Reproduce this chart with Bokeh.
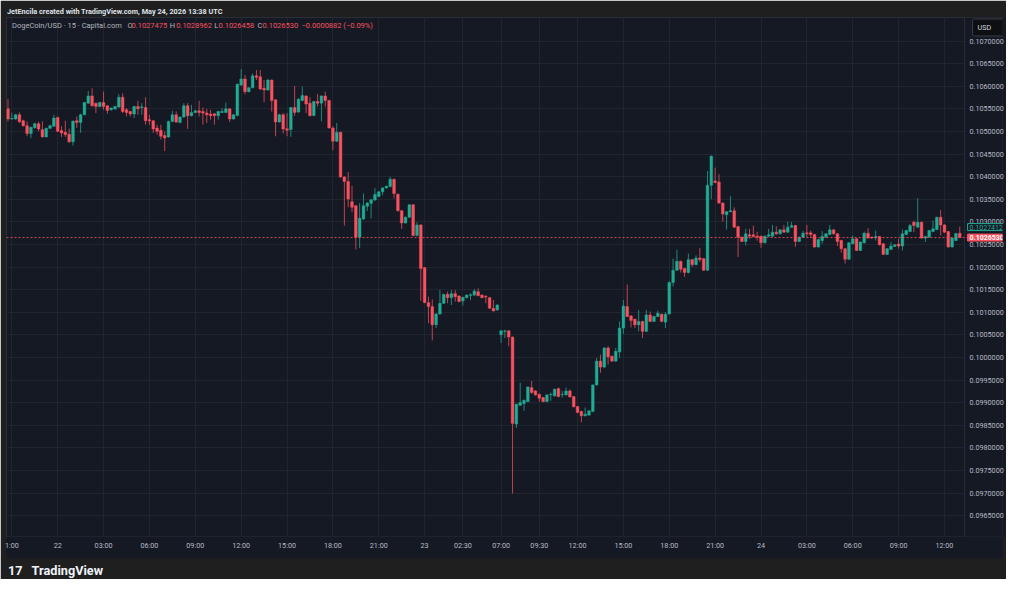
from bokeh.plotting import figure
from bokeh.models import (ColumnDataSource, FixedTicker, PrintfTickFormatter, Span, Label,
                          Range1d, Title, BoxAnnotation)
from bokeh.embed import file_html
from bokeh.resources import INLINE

# ---------------- data (15-minute candles, DogeCoin/USD) ----------------
opens = [
    0.105501, 0.105275, 0.105275, 0.105370, 0.105238, 0.105128, 0.104953, 0.105084, 0.105172, 0.105041,
    0.104880, 0.105069, 0.105113, 0.105311, 0.105019, 0.104981, 0.104937, 0.104771, 0.105238, 0.105201,
    0.105370, 0.105627, 0.105787, 0.105627, 0.105552, 0.105640, 0.105567, 0.105480, 0.105495, 0.105539,
    0.105758, 0.105480, 0.105442, 0.105385, 0.105552, 0.105530, 0.105530, 0.105260, 0.105238, 0.105078,
    0.105025, 0.104909, 0.104880, 0.105223, 0.105370, 0.105201, 0.105319, 0.105567, 0.105348, 0.105420,
    0.105458, 0.105442, 0.105407, 0.105385, 0.105392, 0.105348, 0.105420, 0.105420, 0.105501, 0.105275,
    0.105354, 0.106028, 0.106160, 0.105881, 0.105969, 0.106232, 0.106210, 0.105956, 0.105918, 0.106138,
    0.105699, 0.105210, 0.105370, 0.105062, 0.105041, 0.105530, 0.105429, 0.105684, 0.105787, 0.105627,
    0.105354, 0.105662, 0.105627, 0.105787, 0.105684, 0.105078, 0.104784, 0.104981, 0.103994, 0.103893,
    0.103445, 0.103357, 0.102663, 0.103065, 0.103344, 0.103410, 0.103482, 0.103563, 0.103664, 0.103752,
    0.103783, 0.103943, 0.103614, 0.103247, 0.102977, 0.103102, 0.103379, 0.102698, 0.102933, 0.101989,
    0.101215, 0.101127, 0.100723, 0.100964, 0.101199, 0.101397, 0.101324, 0.101412, 0.101360, 0.101250,
    0.101324, 0.101375, 0.101381, 0.101456, 0.101381, 0.101353, 0.101324, 0.101090, 0.101052, 0.100503,
    0.100578, 0.100591, 0.100453, 0.098528, 0.098945, 0.098982, 0.099026, 0.099334, 0.099261, 0.099186,
    0.099114, 0.099026, 0.099180, 0.099151, 0.099312, 0.099180, 0.099173, 0.099261, 0.099136, 0.098916,
    0.098807, 0.098712, 0.098726, 0.098807, 0.099393, 0.099920, 0.099788, 0.100212, 0.100029, 0.099920,
    0.100124, 0.100651, 0.101127, 0.100921, 0.100848, 0.100723, 0.100798, 0.100578, 0.100942, 0.100798,
    0.100907, 0.100958, 0.100782, 0.100964, 0.101660, 0.101930, 0.102128, 0.101968, 0.101880, 0.102165,
    0.102055, 0.102202, 0.102187, 0.101930, 0.103811, 0.103906, 0.103884, 0.103416, 0.103159, 0.103225,
    0.103247, 0.102896, 0.102663, 0.102567, 0.102714, 0.102714, 0.102685, 0.102685, 0.102538, 0.102685,
    0.102685, 0.102773, 0.102736, 0.102824, 0.102773, 0.102883, 0.102918, 0.102567, 0.102663, 0.102758,
    0.102758, 0.102720, 0.102444, 0.102589, 0.102663, 0.102720, 0.102824, 0.102736, 0.102589, 0.102407,
    0.102172, 0.102516, 0.102626, 0.102369, 0.102538, 0.102751, 0.102663, 0.102648, 0.102677, 0.102516,
    0.102281, 0.102391, 0.102457, 0.102510, 0.102466, 0.102720, 0.102786, 0.102993, 0.102883, 0.102993,
    0.102641, 0.102663, 0.102786, 0.102830, 0.103102, 0.102933, 0.102786, 0.102444, 0.102589, 0.1027475,
]
highs = [
    0.105714, 0.105414, 0.105392, 0.105420, 0.105260, 0.105223, 0.105106, 0.105194, 0.105216, 0.105223,
    0.105084, 0.105150, 0.105370, 0.105326, 0.105113, 0.105238, 0.105062, 0.105238, 0.105332, 0.105392,
    0.105655, 0.105897, 0.105956, 0.105633, 0.105655, 0.105881, 0.105578, 0.105534, 0.105567, 0.105824,
    0.105846, 0.105517, 0.105458, 0.105567, 0.105677, 0.105627, 0.105758, 0.105370, 0.105249, 0.105150,
    0.105150, 0.105003, 0.105238, 0.105458, 0.105442, 0.105332, 0.105627, 0.105627, 0.105589, 0.105480,
    0.105677, 0.105530, 0.105501, 0.105480, 0.105407, 0.105458, 0.105517, 0.105640, 0.105512, 0.105381,
    0.106061, 0.106379, 0.106248, 0.105984, 0.106285, 0.106357, 0.106357, 0.106138, 0.106160, 0.106149,
    0.105710, 0.105392, 0.105407, 0.105407, 0.105545, 0.106006, 0.105732, 0.105991, 0.105798, 0.105758,
    0.105677, 0.105831, 0.105798, 0.105881, 0.105699, 0.105113, 0.105188, 0.104997, 0.104009, 0.104103,
    0.103796, 0.103372, 0.103416, 0.103629, 0.103438, 0.103504, 0.103745, 0.103680, 0.103767, 0.103805,
    0.103994, 0.103954, 0.103625, 0.103263, 0.103120, 0.103394, 0.103394, 0.102993, 0.102949, 0.102000,
    0.101346, 0.101287, 0.100980, 0.101491, 0.101412, 0.101456, 0.101491, 0.101491, 0.101375, 0.101346,
    0.101397, 0.101419, 0.101513, 0.101529, 0.101397, 0.101381, 0.101337, 0.101272, 0.101177, 0.100607,
    0.100613, 0.100607, 0.100464, 0.098982, 0.099443, 0.099070, 0.099355, 0.099481, 0.099279, 0.099202,
    0.099129, 0.099191, 0.099224, 0.099312, 0.099334, 0.099261, 0.099334, 0.099296, 0.099147, 0.098927,
    0.098822, 0.098895, 0.098835, 0.099406, 0.099992, 0.100064, 0.100227, 0.100249, 0.100043, 0.100212,
    0.100798, 0.101272, 0.101616, 0.100936, 0.100859, 0.101052, 0.100811, 0.101052, 0.101017, 0.100921,
    0.101039, 0.100969, 0.101002, 0.101682, 0.102187, 0.102385, 0.102143, 0.101983, 0.102297, 0.102180,
    0.102259, 0.102422, 0.102202, 0.104125, 0.104470, 0.104200, 0.104053, 0.103432, 0.103241, 0.103576,
    0.103322, 0.102911, 0.102677, 0.102846, 0.102846, 0.102918, 0.102780, 0.102698, 0.102698, 0.102846,
    0.102933, 0.102905, 0.102839, 0.102933, 0.103006, 0.102999, 0.102933, 0.102677, 0.102802, 0.102933,
    0.102808, 0.102736, 0.102626, 0.102795, 0.102751, 0.102933, 0.102839, 0.102751, 0.102604, 0.102422,
    0.102554, 0.102698, 0.102641, 0.102567, 0.102786, 0.102861, 0.102677, 0.102808, 0.102692, 0.102532,
    0.102422, 0.102554, 0.102510, 0.102626, 0.102830, 0.102824, 0.102955, 0.103028, 0.103526, 0.103006,
    0.102692, 0.102824, 0.103028, 0.103116, 0.103263, 0.102949, 0.102802, 0.102655, 0.102758, 0.1028962,
]
lows = [
    0.105223, 0.105260, 0.105260, 0.105188, 0.105106, 0.104893, 0.104850, 0.105062, 0.105003, 0.104865,
    0.104865, 0.105052, 0.105106, 0.104986, 0.104880, 0.104880, 0.104749, 0.104689, 0.105078, 0.104968,
    0.105359, 0.105611, 0.105552, 0.105407, 0.105534, 0.105480, 0.105392, 0.105458, 0.105480, 0.105523,
    0.105407, 0.105332, 0.105332, 0.105297, 0.105370, 0.105370, 0.105150, 0.105150, 0.104968, 0.104931,
    0.104821, 0.104564, 0.104858, 0.105205, 0.105188, 0.105183, 0.105304, 0.105056, 0.105332, 0.105403,
    0.105332, 0.105150, 0.105188, 0.105260, 0.105150, 0.105260, 0.105407, 0.105407, 0.105210, 0.105260,
    0.105337, 0.106006, 0.105824, 0.105864, 0.105951, 0.106138, 0.105918, 0.105648, 0.105897, 0.105442,
    0.104893, 0.105194, 0.104953, 0.104893, 0.104880, 0.105348, 0.105414, 0.105666, 0.105407, 0.105332,
    0.105337, 0.105552, 0.105223, 0.105552, 0.105062, 0.104586, 0.104766, 0.103976, 0.102918, 0.103322,
    0.103212, 0.102391, 0.102422, 0.103043, 0.103241, 0.103080, 0.103460, 0.103548, 0.103592, 0.103735,
    0.103767, 0.103519, 0.103230, 0.102846, 0.102962, 0.103087, 0.102681, 0.102681, 0.101250, 0.101199,
    0.100760, 0.100381, 0.100651, 0.100947, 0.101184, 0.101199, 0.101162, 0.101237, 0.101221, 0.101149,
    0.101309, 0.101272, 0.101368, 0.101353, 0.101309, 0.101199, 0.101074, 0.101017, 0.101035, 0.100321,
    0.100431, 0.100249, 0.096991, 0.098440, 0.098927, 0.098822, 0.099011, 0.099202, 0.099158, 0.099026,
    0.099011, 0.099011, 0.099042, 0.099136, 0.099121, 0.099114, 0.099158, 0.099114, 0.098895, 0.098769,
    0.098565, 0.098697, 0.098712, 0.098791, 0.099377, 0.099663, 0.099773, 0.099845, 0.099904, 0.099904,
    0.099992, 0.100519, 0.100892, 0.100666, 0.100651, 0.100578, 0.100431, 0.100563, 0.100782, 0.100782,
    0.100892, 0.100782, 0.100651, 0.100947, 0.101572, 0.101913, 0.101880, 0.101785, 0.101858, 0.102005,
    0.102033, 0.102115, 0.101913, 0.101913, 0.103504, 0.103855, 0.103401, 0.103006, 0.102830, 0.103212,
    0.102867, 0.102224, 0.102554, 0.102479, 0.102626, 0.102663, 0.102589, 0.102428, 0.102523, 0.102670,
    0.102670, 0.102714, 0.102720, 0.102758, 0.102758, 0.102867, 0.102444, 0.102554, 0.102648, 0.102663,
    0.102648, 0.102428, 0.102428, 0.102516, 0.102648, 0.102707, 0.102720, 0.102466, 0.102319, 0.102077,
    0.102158, 0.102501, 0.102356, 0.102356, 0.102523, 0.102626, 0.102626, 0.102589, 0.102479, 0.102268,
    0.102268, 0.102378, 0.102444, 0.102407, 0.102369, 0.102707, 0.102773, 0.102773, 0.102867, 0.102626,
    0.102554, 0.102648, 0.102773, 0.102817, 0.102698, 0.102758, 0.102428, 0.102428, 0.102576, 0.1026458,
]
closes = [
    0.105275, 0.105289, 0.105370, 0.105216, 0.105128, 0.104953, 0.105091, 0.105172, 0.105056, 0.104880,
    0.105069, 0.105128, 0.105297, 0.105003, 0.104968, 0.104931, 0.104771, 0.105232, 0.105201, 0.105370,
    0.105640, 0.105787, 0.105567, 0.105552, 0.105640, 0.105552, 0.105464, 0.105517, 0.105552, 0.105758,
    0.105442, 0.105420, 0.105385, 0.105552, 0.105501, 0.105545, 0.105238, 0.105238, 0.105056, 0.105003,
    0.104893, 0.104858, 0.105223, 0.105370, 0.105210, 0.105319, 0.105567, 0.105348, 0.105420, 0.105458,
    0.105420, 0.105407, 0.105370, 0.105348, 0.105348, 0.105442, 0.105442, 0.105501, 0.105275, 0.105370,
    0.106044, 0.106160, 0.105881, 0.105969, 0.106232, 0.106197, 0.105940, 0.105918, 0.106138, 0.105684,
    0.105210, 0.105370, 0.105056, 0.105025, 0.105530, 0.105420, 0.105714, 0.105793, 0.105605, 0.105348,
    0.105662, 0.105627, 0.105787, 0.105684, 0.105078, 0.104784, 0.104981, 0.103994, 0.103893, 0.103504,
    0.103322, 0.102663, 0.103080, 0.103357, 0.103416, 0.103489, 0.103607, 0.103664, 0.103752, 0.103789,
    0.103943, 0.103629, 0.103247, 0.102977, 0.103102, 0.103379, 0.102698, 0.102933, 0.101968, 0.101215,
    0.101127, 0.100723, 0.100964, 0.101199, 0.101397, 0.101324, 0.101412, 0.101346, 0.101237, 0.101331,
    0.101381, 0.101390, 0.101469, 0.101368, 0.101324, 0.101337, 0.101090, 0.101030, 0.101162, 0.100591,
    0.100591, 0.100453, 0.098543, 0.098967, 0.099004, 0.099055, 0.099349, 0.099224, 0.099173, 0.099099,
    0.099026, 0.099173, 0.099186, 0.099296, 0.099136, 0.099186, 0.099261, 0.099129, 0.098910, 0.098785,
    0.098712, 0.098747, 0.098822, 0.099393, 0.099920, 0.099788, 0.100212, 0.100014, 0.099920, 0.100139,
    0.100651, 0.101140, 0.100907, 0.100820, 0.100723, 0.100798, 0.100578, 0.100942, 0.100798, 0.100907,
    0.100980, 0.100798, 0.100958, 0.101660, 0.101930, 0.102128, 0.101952, 0.101880, 0.102165, 0.102055,
    0.102202, 0.102165, 0.101930, 0.103811, 0.104454, 0.103871, 0.103416, 0.103175, 0.103225, 0.103247,
    0.102883, 0.102663, 0.102567, 0.102736, 0.102685, 0.102677, 0.102663, 0.102538, 0.102685, 0.102714,
    0.102773, 0.102736, 0.102824, 0.102773, 0.102883, 0.102918, 0.102567, 0.102663, 0.102751, 0.102736,
    0.102720, 0.102444, 0.102611, 0.102677, 0.102736, 0.102824, 0.102736, 0.102567, 0.102407, 0.102172,
    0.102538, 0.102626, 0.102369, 0.102554, 0.102751, 0.102641, 0.102641, 0.102677, 0.102494, 0.102281,
    0.102407, 0.102466, 0.102494, 0.102466, 0.102736, 0.102808, 0.102918, 0.102918, 0.102993, 0.102641,
    0.102677, 0.102808, 0.102846, 0.103102, 0.102933, 0.102773, 0.102444, 0.102641, 0.1027412, 0.1026530,
]

x_tick_pos = [1, 13, 25, 37, 49, 61, 73, 85, 97, 109, 119, 129, 139, 149,
              161, 173, 185, 197, 209, 221, 233, 245]
x_tick_labels = ["1:00", "22", "03:00", "06:00", "09:00", "12:00", "15:00", "18:00", "21:00",
                 "23", "02:30", "07:00", "09:30", "12:00", "15:00", "18:00", "21:00",
                 "24", "03:00", "06:00", "09:00", "12:00"]
y_ticks = [0.0965, 0.0970, 0.0975, 0.0980, 0.0985, 0.0990, 0.0995, 0.1000, 0.1005, 0.1010, 0.1015,
           0.1020, 0.1025, 0.1030, 0.1035, 0.1040, 0.1045, 0.1050, 0.1055, 0.1060, 0.1065, 0.1070]

header_text = "JetEncila created with TradingView.com, May 24, 2026 13:38 UTC"
symbol_text = "DogeCoin/USD \u00b7 15 \u00b7 Capital.com"
currency = "USD"
brand = "17\u2002\u2009TradingView"

# ---------------- styles ----------------
OUTER = "#1f1f1f"
PANEL = "#151924"
GRID = "#21252f"
EDGE = "#2a2e39"
AXTXT = "#b8bbc4"
UP = "#22ab94"
DOWN = "#f7525f"
FONT = "Roboto"

n = len(closes)
xs = list(range(n))
colors = [UP if c >= o else DOWN for o, c in zip(opens, closes)]
src = ColumnDataSource(dict(
    x=xs, open=opens, high=highs, low=lows, close=closes, color=colors,
    top=[max(o, c) for o, c in zip(opens, closes)],
    bottom=[min(o, c) for o, c in zip(opens, closes)],
))

# one candle slot = 3.83 px; the price scale lives inside the right end of the frame
X0, X1 = -0.39, 260.18
X_SCALE = 250.26          # left edge of the price scale
Y0, Y1 = 0.096041, 0.107521

p = figure(width=1006, height=579, x_range=Range1d(X0, X1), y_range=Range1d(Y0, Y1),
           output_backend="svg", toolbar_location=None, y_axis_location="right",
           min_border_left=6, min_border_right=2, min_border_top=17, min_border_bottom=39,
           background_fill_color=PANEL, border_fill_color=OUTER, outline_line_color=EDGE)

p.title = Title(text=header_text, text_color="#dfe2ea", text_font=FONT,
                text_font_size="7.3px", text_font_style="bold", align="left",
                offset=0.5, standoff=3)

for ax in (p.xaxis[0], p.yaxis[0]):
    ax.axis_line_color = None
    ax.major_tick_line_color = None
    ax.minor_tick_line_color = None
    ax.major_tick_out = 0
    ax.major_tick_in = 0
    ax.major_label_text_color = AXTXT
    ax.major_label_text_font = FONT
    ax.major_label_text_font_size = "7.2px"
    ax.background_fill_color = PANEL

p.xaxis.ticker = FixedTicker(ticks=x_tick_pos)
p.xaxis.major_label_overrides = {k: v for k, v in zip(x_tick_pos, x_tick_labels)}
p.xaxis.major_label_standoff = 4
p.xaxis.axis_label = "\u00a0"
p.xaxis.axis_label_text_font_size = "3px"
p.xaxis.axis_label_standoff = 0

p.yaxis.ticker = FixedTicker(ticks=y_ticks)
p.yaxis.formatter = PrintfTickFormatter(format="%.7f")
p.yaxis.major_label_standoff = -33

p.xgrid.grid_line_color = GRID
p.ygrid.grid_line_color = GRID

# price-scale background (covers the grid lines there) and its separator line
p.add_layout(BoxAnnotation(left=X_SCALE, fill_color=PANEL, fill_alpha=1.0,
                           line_color=None, level="underlay"))
p.add_layout(Span(location=X_SCALE, dimension="height", line_color=EDGE, line_width=1))

p.segment(x0="x", y0="low", x1="x", y1="high", line_color="color", line_width=1,
          line_alpha=0.75, source=src)
p.vbar(x="x", width=0.72, top="top", bottom="bottom", fill_color="color",
       line_color="color", line_width=0.4, source=src)

last_close = closes[-1]
prev_close = closes[-2]
p.add_layout(Span(location=last_close, dimension="width", line_color=DOWN,
                  line_dash="2 2", line_width=1, line_alpha=0.85))

# legend row inside the chart
chg = last_close - prev_close
pct = chg / prev_close * 100
def fmt(v):
    return ("\u2212" if v < 0 else "") + "%.7f" % abs(v)
chg_text = "%s (%s%.2f%%)" % (fmt(chg), "\u2212" if pct < 0 else "+", abs(pct))
legend_parts = [
    (symbol_text, "#b2b5be", 5.5),
    ("O", "#b2b5be", 121.0), (fmt(opens[-1]), DOWN, 125.0),
    ("H", "#b2b5be", 163.3), (fmt(highs[-1]), DOWN, 169.7),
    ("L", "#b2b5be", 207.7), (fmt(lows[-1]), DOWN, 212.0),
    ("C", "#b2b5be", 251.0), (fmt(last_close), DOWN, 256.0),
    (chg_text, DOWN, 295.0),
]
for txt, col, xo in legend_parts:
    p.add_layout(Label(x=X0, y=Y1, x_offset=xo, y_offset=-8, text=txt, text_color=col,
                       text_font=FONT, text_font_size="7.5px", text_baseline="middle"))

# price-scale badges
p.add_layout(Label(x=X_SCALE, y=Y1, x_offset=8, y_offset=-10, text=currency,
                   text_color="#d1d4dc", text_font=FONT, text_font_size="7.2px",
                   text_baseline="middle", background_fill_color="#0e0f13",
                   border_line_color="#3a3e49", border_radius=2,
                   padding=dict(left=5, right=14, top=4, bottom=4)))
p.add_layout(Label(x=X_SCALE, y=prev_close, x_offset=3, y_offset=6.5, text="%.7f" % prev_close,
                   text_color=UP, text_font=FONT, text_font_size="7px",
                   text_baseline="middle", background_fill_color=PANEL,
                   border_line_color=UP, padding=dict(left=2, right=2, top=1, bottom=1)))
p.add_layout(Label(x=X_SCALE, y=last_close, x_offset=3, y_offset=0, text="%.7f" % last_close,
                   text_color="#ffffff", text_font=FONT, text_font_size="7px",
                   text_font_style="bold", text_baseline="middle",
                   background_fill_color=DOWN, border_line_color=DOWN,
                   padding=dict(left=2, right=2, top=1, bottom=1)))

# brand mark at the bottom
p.add_layout(Title(text=brand, text_color="#f0f3fa", text_font=FONT,
                   text_font_size="12.7px", text_font_style="bold", align="left",
                   offset=1.5, standoff=4), "below")

open("out.html", "w").write(file_html(p, INLINE))
